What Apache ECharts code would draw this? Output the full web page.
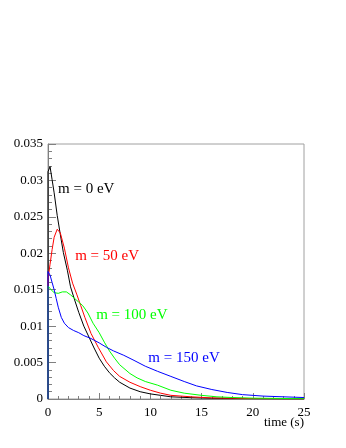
<!DOCTYPE html>
<html><head><meta charset="utf-8">
<script src="https://cdn.jsdelivr.net/npm/echarts@6/dist/echarts.min.js"></script>
<style>html,body{margin:0;padding:0;background:#fff}#c{width:346px;height:448px}</style>
</head><body><div id="c"></div>
<script>
// x-axis tick labels (time, s) and y-axis tick labels
const xTicks = [0, 5, 10, 15, 20, 25];
const yTicks = [0, 0.005, 0.01, 0.015, 0.02, 0.025, 0.03, 0.035];
const xTitle = 'time (s)';
const seriesNames = ['m = 0 eV', 'm = 50 eV', 'm = 100 eV', 'm = 150 eV'];
// label anchor (data coordinates) for each curve's text
const labelAnchors = [[0.98, 0.0288], [2.65, 0.0196], [4.7, 0.01157], [9.8, 0.00565]];

const m0 = [[0,0],[0,0.0312],[0.2,0.0319],[0.4,0.0301],[0.6,0.0283],[0.9,0.0252],[1.2,0.0226],[1.5,0.0201],[1.9,0.0176],[2.2,0.0154],[2.6,0.0136],[3.0,0.0119],[3.5,0.0100],[4.0,0.0085],[4.5,0.0070],[5.0,0.0056],[5.5,0.0045],[6.0,0.0036],[6.5,0.0029],[7.0,0.0023],[8.0,0.0015],[9.0,0.0010],[10,0.0007],[11,0.0005],[12,0.0003],[14,0.00018],[16,0.0001],[20,0.00005],[25,0.00002]];
const m50 = [[0,0],[0,0.0165],[0.2,0.0185],[0.4,0.0205],[0.6,0.0222],[0.9,0.0233],[1.2,0.0228],[1.6,0.0207],[2.0,0.0180],[2.4,0.0159],[2.8,0.0144],[3.2,0.0128],[3.6,0.0112],[4.2,0.0090],[4.9,0.0071],[5.7,0.0051],[6.4,0.0039],[7.0,0.0031],[8.0,0.0023],[9.0,0.0017],[10,0.0012],[11,0.0008],[12,0.0005],[14,0.0003],[16,0.00015],[20,0.00006],[25,0.00002]];
const m100 = [[0,0],[0,0.0155],[0.3,0.0150],[0.6,0.0146],[1.0,0.0145],[1.4,0.0147],[1.8,0.0147],[2.2,0.0143],[2.6,0.0138],[3.0,0.0133],[3.4,0.0128],[3.9,0.0118],[4.4,0.0104],[5.0,0.0091],[5.5,0.0078],[6.0,0.0066],[6.5,0.0056],[7.0,0.0047],[8.0,0.0035],[8.7,0.0029],[9.5,0.0024],[10.7,0.0019],[12,0.0012],[13.3,0.0008],[15,0.0005],[16.5,0.0003],[18,0.0002],[20,0.00012],[25,0.00004]];
const m150 = [[0,0],[0,0.0175],[0.2,0.0170],[0.4,0.0160],[0.6,0.0150],[0.8,0.0138],[1.0,0.0126],[1.3,0.0112],[1.6,0.0104],[2.0,0.0098],[2.5,0.0094],[3.0,0.0091],[3.5,0.0087],[4.2,0.0083],[5.0,0.0077],[5.7,0.0071],[6.4,0.0066],[7.4,0.0060],[8.4,0.0053],[9.5,0.0045],[10.7,0.0038],[12,0.0031],[13.3,0.0024],[14.5,0.0018],[16,0.0013],[17.5,0.0009],[19,0.0006],[21,0.0004],[23,0.0003],[25,0.0002]];

const seriesData = [m0, m50, m100, m150];
const colors = ['#000000', '#ff0000', '#00ff00', '#0000ff'];
const FONT = 'Liberation Serif';

const chart = echarts.init(document.getElementById('c'), null, {renderer: 'canvas'});
const axisCol = '#808080';
chart.setOption({
  animation: false,
  backgroundColor: '#fff',
  grid: {left: 48, right: 42, top: 144, bottom: 49, show: true, borderColor: '#a0a0a0', borderWidth: 1},
  xAxis: {
    type: 'value', min: xTicks[0], max: xTicks[xTicks.length - 1], interval: xTicks[1] - xTicks[0],
    axisLine: {show: true, lineStyle: {color: axisCol, width: 1}},
    axisTick: {show: true, inside: true, length: 6, lineStyle: {color: axisCol}},
    minorTick: {show: true, splitNumber: 5, length: 3, lineStyle: {color: axisCol}},
    splitLine: {show: false},
    axisLabel: {fontFamily: FONT, fontSize: 13, color: '#000', margin: 7}
  },
  yAxis: {
    type: 'value', min: yTicks[0], max: yTicks[yTicks.length - 1], interval: yTicks[1] - yTicks[0],
    axisLine: {show: true, lineStyle: {color: axisCol, width: 1}},
    axisTick: {show: true, inside: true, length: 8, lineStyle: {color: axisCol}},
    minorTick: {show: true, splitNumber: 5, length: 4, lineStyle: {color: axisCol}},
    splitLine: {show: false},
    axisLabel: {fontFamily: FONT, fontSize: 13, color: '#000', margin: 5,
      formatter: v => { const t = yTicks.find(y => Math.abs(y - v) < 1e-9); return t === undefined ? '' : String(t); }}
  },
  series: seriesData.map((d, i) => ({
    type: 'line', name: seriesNames[i], data: d, showSymbol: false, smooth: false,
    lineStyle: {color: colors[i], width: 1}, z: 2 + i
  }))
});

const graphics = labelAnchors.map((a, i) => {
  const p = chart.convertToPixel({gridIndex: 0}, a);
  return {type: 'text', x: p[0], y: p[1], z: 100,
    style: {text: seriesNames[i], fill: colors[i], font: '15px "Liberation Serif"', textAlign: 'left', textVerticalAlign: 'middle'}};
});
const end = chart.convertToPixel({gridIndex: 0}, [xTicks[xTicks.length - 1], 0]);
graphics.push({type: 'text', x: end[0], y: end[1] + 24, z: 100,
  style: {text: xTitle, fill: '#000', font: '13px "Liberation Serif"', textAlign: 'right', textVerticalAlign: 'middle'}});
chart.setOption({graphic: graphics});
</script>
</body></html>
